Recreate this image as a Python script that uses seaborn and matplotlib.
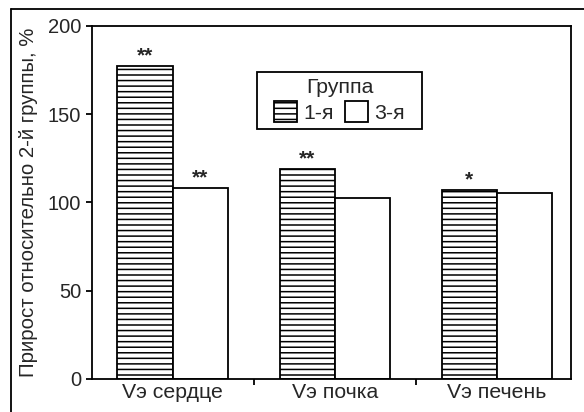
import matplotlib
matplotlib.use("Agg")
import matplotlib.pyplot as plt
from matplotlib.lines import Line2D
from matplotlib.patches import Rectangle
import seaborn as sns
import pandas as pd

categories = ["Vэ сердце", "Vэ почка", "Vэ печень"]
groups = ["1-я", "3-я"]
values_g1 = [177.3, 119.0, 107.1]
values_g3 = [108.0, 102.4, 105.2]
stars_g1 = ["**", "**", "*"]
stars_g3 = ["**", "", ""]
y_ticks = [0, 50, 100, 150, 200]
y_label = "Прирост относительно 2-й группы, %"
legend_title = "Группа"

sns.set_style("ticks")
plt.rcParams["font.family"] = ["Liberation Sans", "DejaVu Sans"]
plt.rcParams["hatch.linewidth"] = 1.1
plt.rcParams["hatch.color"] = "black"

df = pd.DataFrame({
    "cat": categories * 2,
    "group": [groups[0]] * 3 + [groups[1]] * 3,
    "val": values_g1 + values_g3,
})

fig = plt.figure(figsize=(5.84, 4.12), dpi=100)
ax = fig.add_axes([0.1567, 0.0801, 0.8202, 0.8568])

sns.barplot(data=df, x="cat", y="val", hue="group", order=categories,
            hue_order=groups, palette=["white", "white"], edgecolor="black",
            linewidth=1.3, width=0.68, saturation=1, ax=ax, legend=False)

for p in ax.containers[0]:
    p.set_hatch("---")

for cont, st in zip(ax.containers, [stars_g1, stars_g3]):
    for p, s in zip(cont, st):
        if s:
            ax.annotate(s, (p.get_x() + p.get_width() / 2, p.get_height()),
                        xytext=(0, 3.5), textcoords="offset points",
                        ha="center", va="baseline", fontsize=15, fontweight="bold")

ax.set_ylim(0, 200)
ax.set_xlim(-0.5, 2.454)
ax.set_yticks(y_ticks)
ax.set_xticks([0, 1, 2])
ax.set_xticklabels(categories, fontsize=15.3)
ax.set_xticks([0.5, 1.5], minor=True)
ax.tick_params(axis="x", which="major", length=0, pad=3)
ax.tick_params(axis="x", which="minor", length=4.5, width=1.3, direction="out", color="black")
ax.tick_params(axis="y", length=4.5, width=1.3, direction="out", labelsize=14.5, pad=3, color="black")
ax.set_xlabel("")
ax.set_ylabel(y_label, fontsize=14.7, labelpad=7)
for s in ax.spines.values():
    s.set_visible(True)
    s.set_linewidth(1.3)
    s.set_color("black")

# legend box
ax.add_patch(Rectangle((0.3455, 0.708), 0.3445, 0.1615, transform=ax.transAxes,
                       facecolor="white", edgecolor="black", lw=1.3, zorder=4))
leg = ax.legend(handles=[ax.containers[0], ax.containers[1]], labels=groups,
                title=legend_title, ncol=2, loc="center",
                bbox_to_anchor=(0.5177, 0.789), borderaxespad=0,
                fontsize=15.3, title_fontsize=15.3, frameon=False,
                handlelength=1.1, handleheight=1.1, columnspacing=0.5,
                handletextpad=0.3, borderpad=0.2, labelspacing=0.2)
leg.set_zorder(5)

fig.add_artist(Line2D([0.019, 0.019], [0, 0.978], color="black", lw=1.3, transform=fig.transFigure))
fig.add_artist(Line2D([0.019, 1.0], [0.978, 0.978], color="black", lw=1.3, transform=fig.transFigure))

fig.savefig("out.png", dpi=100)
